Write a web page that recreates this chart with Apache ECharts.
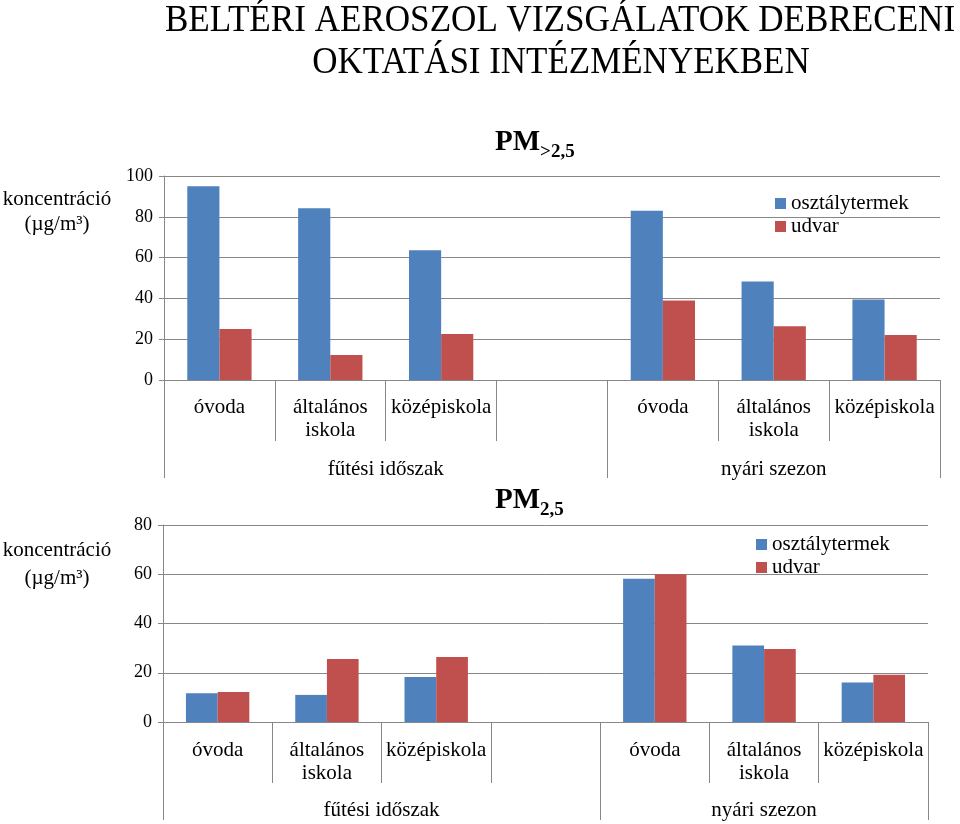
<!DOCTYPE html>
<html>
<head>
<meta charset="utf-8">
<script src="https://cdn.jsdelivr.net/npm/echarts@6/dist/echarts.min.js"></script>
<style>html,body{margin:0;padding:0;background:#fff}#c{width:960px;height:824px}</style>
</head>
<body>
<div id="c"></div>
<script>
const categories = ['óvoda', 'általános\niskola', 'középiskola', '', 'óvoda', 'általános\niskola', 'középiskola'];
const periods = ['fűtési időszak', 'nyári szezon'];
const periodSizes = [4, 3];
const seriesNames = ['osztálytermek', 'udvar'];
const coarseRoom = [95, 84.2, 63.6, null, 83, 48.3, 39.5];
const coarseYard = [25, 12.2, 22.5, null, 39, 26.4, 22];
const fineRoom = [11.7, 11, 18.3, null, 58.2, 31.1, 16];
const fineYard = [12.2, 25.6, 26.4, null, 60, 29.6, 19.2];
const coarseTicks = [0, 20, 40, 60, 80, 100];
const fineTicks = [0, 20, 40, 60, 80];

const SERIF = '"Liberation Serif", "Times New Roman", serif';
const GRAY = '#878787';
const BLUE = '#4F81BD';
const RED = '#C0504D';

// group boundaries and centres (in slot units)
const bounds = [0];
periodSizes.forEach(s => bounds.push(bounds[bounds.length - 1] + s));
const centers = periodSizes.map((s, i) => bounds[i] + s / 2);

function catAxis(gi, tickLen, margin) {
  return {
    type: 'category', gridIndex: gi, data: categories,
    axisLine: { lineStyle: { color: GRAY, width: 1 } },
    axisTick: { show: true, interval: 0, alignWithLabel: false, length: tickLen, lineStyle: { color: GRAY } },
    axisLabel: { interval: 0, fontFamily: SERIF, fontSize: 21, lineHeight: 23, color: '#000', margin },
    splitLine: { show: false }
  };
}
function groupAxis(gi, tickLen, margin) {
  return {
    type: 'value', gridIndex: gi, min: 0, max: bounds[bounds.length - 1], position: 'bottom',
    axisLine: { show: false },
    splitLine: { show: false },
    axisTick: { show: true, customValues: bounds, length: tickLen, lineStyle: { color: GRAY } },
    axisLabel: {
      customValues: centers, fontFamily: SERIF, fontSize: 21, color: '#000', margin,
      formatter: v => { const i = centers.indexOf(v); return i >= 0 ? periods[i] : ''; }
    }
  };
}
function valAxis(gi, ticks) {
  return {
    type: 'value', gridIndex: gi, min: ticks[0], max: ticks[ticks.length - 1], interval: ticks[1] - ticks[0],
    axisLine: { show: true, lineStyle: { color: GRAY } },
    axisTick: { show: true, length: 5, lineStyle: { color: GRAY } },
    splitLine: { show: true, lineStyle: { color: GRAY, width: 1 } },
    axisLabel: { fontFamily: SERIF, fontSize: 18, color: '#000', margin: 11 }
  };
}
function bar(name, data, gi, color) {
  return {
    type: 'bar', name, data, xAxisIndex: gi * 2, yAxisIndex: gi,
    barGap: '0%', barCategoryGap: '42%', itemStyle: { color }, animation: false
  };
}
const subRich = {
  a: { fontSize: 29, fontWeight: 'bold', fontFamily: SERIF, lineHeight: 30, verticalAlign: 'top', fill: '#000' },
  b: { fontSize: 19, fontWeight: 'bold', fontFamily: SERIF, lineHeight: 33, verticalAlign: 'bottom', fill: '#000' }
};

const chart = echarts.init(document.getElementById('c'), null, { renderer: 'canvas' });
chart.setOption({
  animation: false,
  backgroundColor: '#fff',
  grid: [
    { left: 164, right: 20, top: 176, bottom: 444 },
    { left: 163, right: 32, top: 525, bottom: 102 }
  ],
  xAxis: [catAxis(0, 61, 16), groupAxis(0, 98, 79), catAxis(1, 61, 17), groupAxis(1, 98, 78)],
  yAxis: [valAxis(0, coarseTicks), valAxis(1, fineTicks)],
  legend: [
    { data: seriesNames, orient: 'vertical', left: 770, top: 188, itemWidth: 11, itemHeight: 11, itemGap: 2,
      icon: 'rect', textStyle: { fontFamily: SERIF, fontSize: 21, color: '#000' } },
    { data: seriesNames, orient: 'vertical', left: 751, top: 529, itemWidth: 11, itemHeight: 11, itemGap: 2,
      icon: 'rect', textStyle: { fontFamily: SERIF, fontSize: 21, color: '#000' } }
  ],
  series: [
    bar(seriesNames[0], coarseRoom, 0, BLUE),
    bar(seriesNames[1], coarseYard, 0, RED),
    bar(seriesNames[0], fineRoom, 1, BLUE),
    bar(seriesNames[1], fineYard, 1, RED)
  ],
  graphic: [
    { type: 'text', x: 560, y: 21, scaleX: 0.948, style: { text: 'BELTÉRI AEROSZOL VIZSGÁLATOK DEBRECENI', font: '37px ' + SERIF, fill: '#000', textAlign: 'center', textVerticalAlign: 'middle' } },
    { type: 'text', x: 561, y: 63, scaleX: 0.945, style: { text: 'OKTATÁSI INTÉZMÉNYEKBEN', font: '37px ' + SERIF, fill: '#000', textAlign: 'center', textVerticalAlign: 'middle' } },
    { type: 'text', x: 495, y: 145, style: { text: '{a|PM}{b|>2,5}', textAlign: 'left', textVerticalAlign: 'middle', rich: subRich } },
    { type: 'text', x: 495, y: 503, style: { text: '{a|PM}{b|2,5}', textAlign: 'left', textVerticalAlign: 'middle', rich: subRich } },
    { type: 'text', x: 57, y: 212, style: { text: 'koncentráció\n(µg/m³)', font: '21px ' + SERIF, lineHeight: 25, fill: '#000', textAlign: 'center', textVerticalAlign: 'middle' } },
    { type: 'text', x: 57, y: 564, style: { text: 'koncentráció\n(µg/m³)', font: '21px ' + SERIF, lineHeight: 28, fill: '#000', textAlign: 'center', textVerticalAlign: 'middle' } }
  ]
});
</script>
</body>
</html>
